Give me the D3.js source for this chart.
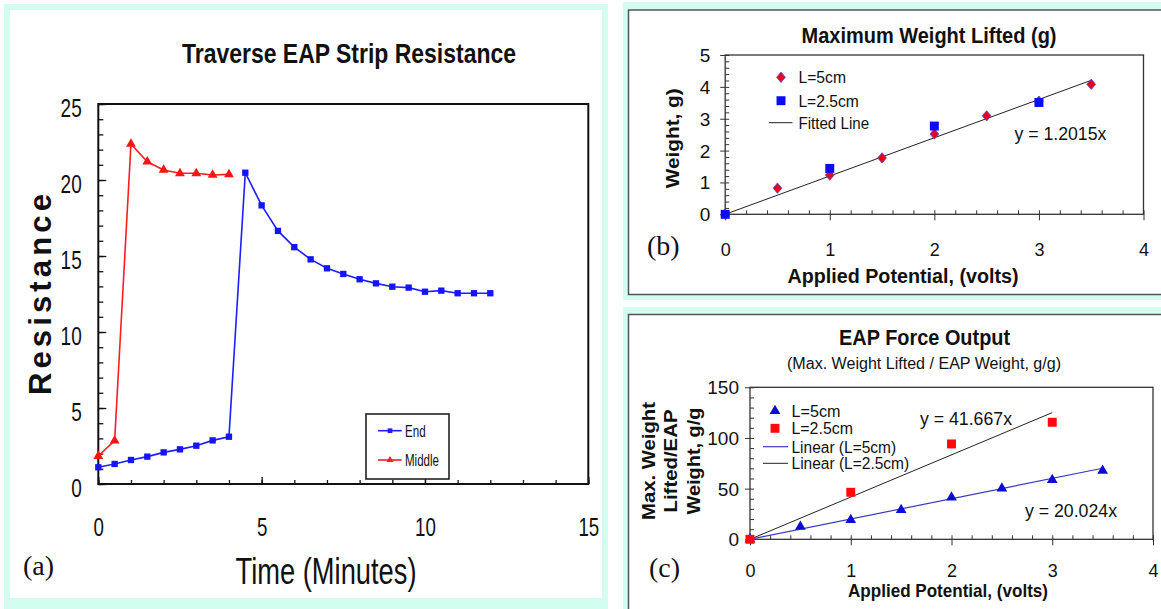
<!DOCTYPE html>
<html>
<head>
<meta charset="utf-8">
<script src="https://cdn.jsdelivr.net/npm/d3@7"></script>
<style>
  body { margin: 0; background: #fff; }
  svg { display: block; }
  text { font-family: "Liberation Sans", Arial, sans-serif; fill: #111; }
</style>
</head>
<body>
<svg id="chart" width="1161" height="609"></svg>
<script>
// (a) Traverse EAP strip resistance
const endTime = [0, 0.5, 1, 1.5, 2, 2.5, 3, 3.5, 4, 4.5, 5, 5.5, 6, 6.5, 7, 7.5, 8, 8.5, 9, 9.5, 10, 10.5, 11, 11.5, 12];
const endRes = [1.1, 1.32, 1.58, 1.8, 2.08, 2.28, 2.52, 2.87, 3.11, 20.48, 18.33, 16.65, 15.58, 14.78, 14.19, 13.82, 13.47, 13.2, 12.98, 12.92, 12.65, 12.72, 12.55, 12.55, 12.55];
const midTime = [0, 0.5, 1, 1.5, 2, 2.5, 3, 3.5, 4];
const midRes = [1.84, 2.85, 22.37, 21.2, 20.66, 20.44, 20.44, 20.33, 20.37];
const timeTicks = [0, 5, 10, 15];
const resTicks = [0, 5, 10, 15, 20, 25];

// (b) maximum weight lifted
const voltsB5 = [0, 0.5, 1, 1.5, 2, 2.5, 3, 3.5];
const weight5 = [0, 0.82, 1.23, 1.77, 2.52, 3.09, 3.55, 4.08];
const voltsB25 = [0, 1, 2, 3];
const weight25 = [0, 1.44, 2.77, 3.51];
const slopeB = 1.2015;
const voltTicks = [0, 1, 2, 3, 4];
const weightTicks = [0, 1, 2, 3, 4, 5];

// (c) force output
const voltsC5 = [0, 0.5, 1, 1.5, 2, 2.5, 3, 3.5];
const ratio5 = [0, 12.5, 19.1, 28.9, 41.4, 50.3, 58.6, 67.8];
const voltsC25 = [0, 1, 2, 3];
const ratio25 = [0, 46.4, 94.1, 115.5];
const slopeC5 = 20.024;
const slopeC25 = 41.667;
const ratioTicks = [0, 50, 100, 150];

const svg = d3.select('#chart');
const cyan = '#d2fdf0';
const intFmt = d3.format('d');

// squeeze text to a measured width (the original fonts are narrow)
function fitW(sel, w, adj) {
  sel.attr('textLength', w).attr('lengthAdjust', adj || 'spacingAndGlyphs');
}
function squeeze(sel, k) {
  sel.each(function() {
    const w = this.getComputedTextLength();
    d3.select(this).attr('textLength', w * k).attr('lengthAdjust', 'spacingAndGlyphs');
  });
}

// panel backgrounds
svg.append('rect').attr('x', 4).attr('y', 4).attr('width', 604).attr('height', 605).attr('fill', cyan);
svg.append('rect').attr('x', 10).attr('y', 10).attr('width', 592).attr('height', 588).attr('fill', '#fff');
svg.append('rect').attr('x', 623).attr('y', 2).attr('width', 540).attr('height', 298).attr('fill', cyan);
svg.append('rect').attr('x', 628.5).attr('y', 10).attr('width', 545).attr('height', 284.5)
  .attr('fill', '#fff').attr('stroke', '#555').attr('stroke-width', 1.5);
svg.append('rect').attr('x', 623).attr('y', 307).attr('width', 540).attr('height', 305).attr('fill', cyan);
svg.append('rect').attr('x', 628.5).attr('y', 314.5).attr('width', 545).attr('height', 310)
  .attr('fill', '#fff').attr('stroke', '#555').attr('stroke-width', 1.5);

// ---------- panel (a) ----------
const xA = d3.scaleLinear().domain([0, 15]).range([98.3, 588.3]);
const yA = d3.scaleLinear().domain([0, 25]).range([484, 104]);
const gA = svg.append('g');

gA.append('rect')
  .attr('x', xA(0)).attr('y', yA(25))
  .attr('width', xA(15) - xA(0)).attr('height', yA(0) - yA(25))
  .attr('fill', 'none').attr('stroke', '#111').attr('stroke-width', 2);

gA.append('g').attr('transform', `translate(0,${yA(0)})`)
  .call(d3.axisBottom(xA).tickValues(d3.range(0, 15.01, 1)).tickSize(-4).tickFormat(''))
  .call(g => g.select('.domain').remove());
const axA = gA.append('g').attr('transform', `translate(0,${yA(0)})`)
  .call(d3.axisBottom(xA).tickValues(timeTicks).tickSize(-7).tickFormat(intFmt))
  .call(g => g.select('.domain').remove());
axA.selectAll('text').attr('y', 52).attr('dy', 0).attr('font-size', 26).attr('fill', '#222');
squeeze(axA.selectAll('text'), 0.72);

gA.append('g').attr('transform', `translate(${xA(0)},0)`)
  .call(d3.axisLeft(yA).tickValues(d3.range(0, 25.01, 1)).tickSize(-5).tickFormat(''))
  .call(g => g.select('.domain').remove());
const ayA = gA.append('g').attr('transform', `translate(${xA(0)},0)`)
  .call(d3.axisLeft(yA).tickValues(resTicks).tickSize(-8).tickFormat(intFmt))
  .call(g => g.select('.domain').remove());
ayA.selectAll('text').attr('x', -16.6).attr('y', 12).attr('dy', 0).attr('font-size', 25).attr('fill', '#222');
squeeze(ayA.selectAll('text'), 0.76);
gA.selectAll('.tick line').attr('stroke', '#111').attr('stroke-width', 1.3);

const lineA = d3.line().x(d => xA(d[0])).y(d => yA(d[1]));
gA.append('path').datum(d3.zip(endTime, endRes)).attr('d', lineA)
  .attr('fill', 'none').attr('stroke', '#1e1eff').attr('stroke-width', 1.6);
gA.append('path').datum(d3.zip(midTime, midRes)).attr('d', lineA)
  .attr('fill', 'none').attr('stroke', '#ff1e1e').attr('stroke-width', 1.6);
gA.selectAll('.endpt').data(d3.zip(endTime, endRes)).join('path')
  .attr('transform', d => `translate(${xA(d[0])},${yA(d[1])})`)
  .attr('d', d3.symbol(d3.symbolSquare, 40)).attr('fill', '#1414ff');
gA.selectAll('.midpt').data(d3.zip(midTime, midRes)).join('path')
  .attr('transform', d => `translate(${xA(d[0])},${yA(d[1])})`)
  .attr('d', d3.symbol(d3.symbolTriangle, 42)).attr('fill', '#ff1414');

// legend (a)
gA.append('rect').attr('x', 366).attr('y', 414).attr('width', 83).attr('height', 65)
  .attr('fill', '#fff').attr('stroke', '#222').attr('stroke-width', 1.6);
[['End', '#1e1eff', d3.symbolSquare, 430.7, 20.7], ['Middle', '#ff1e1e', d3.symbolTriangle, 460, 34]]
  .forEach(([lab, col, sym, ly, w]) => {
    gA.append('line').attr('x1', 378).attr('x2', 401.7).attr('y1', ly).attr('y2', ly)
      .attr('stroke', col).attr('stroke-width', 1.6);
    gA.append('path').attr('transform', `translate(390,${ly})`)
      .attr('d', d3.symbol(sym, 22)).attr('fill', col);
    gA.append('text').attr('x', 405).attr('y', ly + 6).attr('font-size', 17).text(lab)
      .call(fitW, w);
  });

gA.append('text').attr('x', 349).attr('y', 63.3).attr('text-anchor', 'middle')
  .attr('font-size', 28).attr('font-weight', 'bold').text('Traverse EAP Strip Resistance')
  .call(fitW, 334);
gA.append('text').attr('transform', 'translate(51,294.6) rotate(-90)').attr('text-anchor', 'middle')
  .attr('font-size', 31).attr('font-weight', 'bold').text('Resistance')
  .call(fitW, 201, 'spacing');
gA.append('text').attr('x', 326).attr('y', 584).attr('text-anchor', 'middle')
  .attr('font-size', 37).text('Time (Minutes)')
  .call(fitW, 181);
gA.append('text').attr('x', 23).attr('y', 575).attr('font-size', 28)
  .style('font-family', '"Liberation Serif", "Times New Roman", serif').text('(a)');

// ---------- panel (b) ----------
const xB = d3.scaleLinear().domain([0, 4]).range([725.2, 1143.5]);
const yB = d3.scaleLinear().domain([0, 5]).range([214.3, 55]);
const gB = svg.append('g');

gB.append('rect')
  .attr('x', xB(0)).attr('y', yB(5))
  .attr('width', xB(4) - xB(0)).attr('height', yB(0) - yB(5))
  .attr('fill', 'none').attr('stroke', '#333').attr('stroke-width', 1.3);

gB.append('g').attr('transform', `translate(0,${yB(0)})`)
  .call(d3.axisBottom(xB).tickValues(d3.range(0, 4.01, 0.2)).tickSize(-4).tickFormat(''))
  .call(g => g.select('.domain').remove());
const axB = gB.append('g').attr('transform', `translate(0,${yB(0)})`)
  .call(d3.axisBottom(xB).tickValues(voltTicks).tickSize(6).tickFormat(intFmt))
  .call(g => g.select('.domain').remove());
axB.selectAll('text').attr('y', 41.5).attr('dy', 0).attr('font-size', 18);
gB.append('g').attr('transform', `translate(${xB(0)},0)`)
  .call(d3.axisLeft(yB).tickValues(d3.range(0, 5.01, 0.2)).tickSize(-4).tickFormat(''))
  .call(g => g.select('.domain').remove());
const ayB = gB.append('g').attr('transform', `translate(${xB(0)},0)`)
  .call(d3.axisLeft(yB).tickValues(weightTicks).tickSize(5).tickFormat(intFmt))
  .call(g => g.select('.domain').remove());
ayB.selectAll('text').attr('x', -14.8).attr('y', 6.5).attr('dy', 0).attr('font-size', 19);
gB.selectAll('.tick line').attr('stroke', '#333');

gB.append('line')
  .attr('x1', xB(0)).attr('y1', yB(0))
  .attr('x2', xB(3.5)).attr('y2', yB(slopeB * 3.5))
  .attr('stroke', '#222').attr('stroke-width', 1);

const diamond = 'M0,-5.2L4.4,0L0,5.2L-4.4,0Z';
gB.selectAll('.dia').data(d3.zip(voltsB5, weight5)).join('path')
  .attr('transform', d => `translate(${xB(d[0])},${yB(d[1])})`)
  .attr('d', diamond).attr('fill', '#e8001c').attr('stroke', '#5a4cc8').attr('stroke-width', 0.8);
gB.selectAll('.sqb').data(d3.zip(voltsB25, weight25)).join('path')
  .attr('transform', d => `translate(${xB(d[0])},${yB(d[1])})`)
  .attr('d', d3.symbol(d3.symbolSquare, 80)).attr('fill', '#0a0aff');

// legend (b)
gB.append('path').attr('transform', 'translate(781,77.3)').attr('d', diamond)
  .attr('fill', '#e8001c').attr('stroke', '#5a4cc8').attr('stroke-width', 0.8);
gB.append('path').attr('transform', 'translate(781,100.7)')
  .attr('d', d3.symbol(d3.symbolSquare, 80)).attr('fill', '#0a0aff');
gB.append('line').attr('x1', 769).attr('x2', 792.5).attr('y1', 122.7).attr('y2', 122.7)
  .attr('stroke', '#222').attr('stroke-width', 1);
[['L=5cm', 83.3, 47.6], ['L=2.5cm', 106.7, 60.4], ['Fitted Line', 128.7, 70.7]].forEach(([t, ly, w]) => {
  gB.append('text').attr('x', 798.4).attr('y', ly).attr('font-size', 17).text(t).call(fitW, w);
});
gB.append('text').attr('x', 1014.4).attr('y', 139.8).attr('font-size', 18).text('y = 1.2015x').call(fitW, 92);

gB.append('text').attr('x', 929).attr('y', 43.3).attr('text-anchor', 'middle')
  .attr('font-size', 22).attr('font-weight', 'bold').text('Maximum Weight Lifted (g)').call(fitW, 255);
gB.append('text').attr('x', 903).attr('y', 283).attr('text-anchor', 'middle')
  .attr('font-size', 20).attr('font-weight', 'bold').text('Applied Potential, (volts)').call(fitW, 231);
gB.append('text').attr('transform', 'translate(679,138.3) rotate(-90)').attr('text-anchor', 'middle')
  .attr('font-size', 19).attr('font-weight', 'bold').text('Weight, g)').call(fitW, 100);
gB.append('text').attr('x', 647).attr('y', 255).attr('font-size', 28)
  .style('font-family', '"Liberation Serif", "Times New Roman", serif').text('(b)');

// ---------- panel (c) ----------
const xC = d3.scaleLinear().domain([0, 4]).range([750, 1153]);
const yC = d3.scaleLinear().domain([0, 150]).range([539.3, 387.3]);
const gC = svg.append('g');

gC.append('rect')
  .attr('x', xC(0)).attr('y', yC(150))
  .attr('width', xC(4) - xC(0)).attr('height', yC(0) - yC(150))
  .attr('fill', 'none').attr('stroke', '#333').attr('stroke-width', 1.3);

gC.append('g').attr('transform', `translate(0,${yC(0)})`)
  .call(d3.axisBottom(xC).tickValues(d3.range(0, 4.01, 0.2)).tickSize(-4).tickFormat(''))
  .call(g => g.select('.domain').remove());
const axC = gC.append('g').attr('transform', `translate(0,${yC(0)})`)
  .call(d3.axisBottom(xC).tickValues(voltTicks).tickSize(6).tickFormat(intFmt))
  .call(g => g.select('.domain').remove());
axC.selectAll('text').attr('y', 38).attr('dy', 0).attr('font-size', 18);
gC.append('g').attr('transform', `translate(${xC(0)},0)`)
  .call(d3.axisLeft(yC).tickValues(d3.range(0, 150.1, 10)).tickSize(-4).tickFormat(''))
  .call(g => g.select('.domain').remove());
const ayC = gC.append('g').attr('transform', `translate(${xC(0)},0)`)
  .call(d3.axisLeft(yC).tickValues(ratioTicks).tickSize(5).tickFormat(intFmt))
  .call(g => g.select('.domain').remove());
ayC.selectAll('text').attr('x', -11).attr('y', 6.5).attr('dy', 0).attr('font-size', 19);
gC.selectAll('.tick line').attr('stroke', '#333');

gC.append('line')
  .attr('x1', xC(0)).attr('y1', yC(0))
  .attr('x2', xC(3)).attr('y2', yC(slopeC25 * 3))
  .attr('stroke', '#222').attr('stroke-width', 1);
gC.append('line')
  .attr('x1', xC(0)).attr('y1', yC(0))
  .attr('x2', xC(3.5)).attr('y2', yC(slopeC5 * 3.5))
  .attr('stroke', '#3a3ac0').attr('stroke-width', 1.2);

gC.selectAll('.tri').data(d3.zip(voltsC5, ratio5)).join('path')
  .attr('transform', d => `translate(${xC(d[0])},${yC(d[1])})`)
  .attr('d', d3.symbol(d3.symbolTriangle, 50)).attr('fill', '#0c0cd8');
gC.selectAll('.sqc').data(d3.zip(voltsC25, ratio25)).join('path')
  .attr('transform', d => `translate(${xC(d[0])},${yC(d[1])})`)
  .attr('d', d3.symbol(d3.symbolSquare, 80)).attr('fill', '#ff0a0a');

// legend (c)
gC.append('path').attr('transform', 'translate(775,411)')
  .attr('d', d3.symbol(d3.symbolTriangle, 50)).attr('fill', '#0c0cd8');
gC.append('path').attr('transform', 'translate(775,428.3)')
  .attr('d', d3.symbol(d3.symbolSquare, 80)).attr('fill', '#ff0a0a');
gC.append('line').attr('x1', 763).attr('x2', 788).attr('y1', 446.7).attr('y2', 446.7)
  .attr('stroke', '#3a3ac0').attr('stroke-width', 1.2);
gC.append('line').attr('x1', 763).attr('x2', 788).attr('y1', 463.3).attr('y2', 463.3)
  .attr('stroke', '#222').attr('stroke-width', 1);
[['L=5cm', 417, 49], ['L=2.5cm', 434.3, 61.4], ['Linear (L=5cm)', 452.7, 104.6], ['Linear (L=2.5cm)', 469.3, 117.7]]
  .forEach(([t, ly, w]) => {
    gC.append('text').attr('x', 791.5).attr('y', ly).attr('font-size', 16).text(t).call(fitW, w);
  });
gC.append('text').attr('x', 920).attr('y', 424.8).attr('font-size', 18).text('y = 41.667x').call(fitW, 92);
gC.append('text').attr('x', 1025).attr('y', 516.5).attr('font-size', 18).text('y = 20.024x').call(fitW, 92);

gC.append('text').attr('x', 924.6).attr('y', 344.7).attr('text-anchor', 'middle')
  .attr('font-size', 22).attr('font-weight', 'bold').text('EAP Force Output').call(fitW, 171);
gC.append('text').attr('x', 924).attr('y', 368.8).attr('text-anchor', 'middle')
  .attr('font-size', 16).text('(Max. Weight Lifted / EAP Weight, g/g)').call(fitW, 274);
[['Max. Weight', 654.6, 118], ['Lifted/EAP', 677, 103], ['Weight, g/g', 699.5, 107]].forEach(([t, bx, w]) => {
  gC.append('text').attr('transform', `translate(${bx},461) rotate(-90)`).attr('text-anchor', 'middle')
    .attr('font-size', 18).attr('font-weight', 'bold').text(t).call(fitW, w);
});
gC.append('text').attr('x', 948).attr('y', 597).attr('text-anchor', 'middle')
  .attr('font-size', 19).attr('font-weight', 'bold').text('Applied Potential, (volts)').call(fitW, 200);
gC.append('text').attr('x', 649).attr('y', 576.7).attr('font-size', 28)
  .style('font-family', '"Liberation Serif", "Times New Roman", serif').text('(c)');
</script>
</body>
</html>
